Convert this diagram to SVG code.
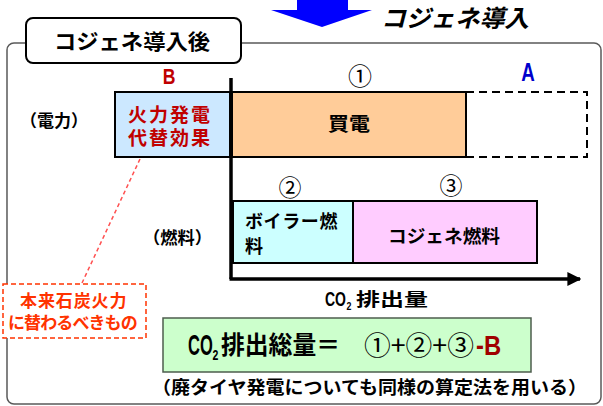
<svg xmlns="http://www.w3.org/2000/svg" width="603" height="406" viewBox="0 0 603 406">
<style>
.jp{font-family:"Noto Sans CJK JP","Noto Sans",sans-serif;font-weight:bold;fill:#000}
.jp2{font-family:"Liberation Sans","Noto Sans CJK JP",sans-serif;font-weight:bold}
.lat{font-family:"Liberation Sans",sans-serif;font-weight:bold}
.circ{font-family:"Noto Sans CJK JP",sans-serif;font-weight:normal;fill:#000}
.box{stroke:#000;stroke-width:2}
.axis{stroke:#000;stroke-width:3.5;fill:none}
</style>
<defs>
<marker id="ah" viewBox="0 0 10 10" refX="9" refY="5" markerWidth="4" markerHeight="4" orient="auto" markerUnits="strokeWidth">
<path d="M0,0 L10,5 L0,10 Z" fill="#000"/>
</marker>
</defs>
<rect width="603" height="406" fill="#fff"/>

<g id="top-arrow">
<polygon points="297,0 348,0 348,10 372,10 322,27 271,10 297,10" fill="#0000FF"/>
<text x="381" y="27" class="jp" font-size="24" font-style="italic" textLength="148" lengthAdjust="spacingAndGlyphs">コジェネ導入</text>
</g>

<g id="frame">
<rect x="7" y="43" width="594" height="361" rx="7" fill="none" stroke="#595959" stroke-width="1.5"/>
</g>

<g id="title">
<rect x="26" y="18" width="215" height="45" rx="7" fill="#fff" stroke="#000" stroke-width="2"/>
<text x="54" y="49" class="jp" font-size="21" textLength="156" lengthAdjust="spacingAndGlyphs">コジェネ導入後</text>
</g>

<g id="connectors">
<line x1="231" y1="78" x2="231" y2="279" class="axis"/>
<line x1="229.5" y1="279" x2="580" y2="279" class="axis" marker-end="url(#ah)" stroke-width="3"/>
<line x1="140" y1="159" x2="82" y2="283" stroke="#FF5050" stroke-width="1.5" stroke-dasharray="4 3"/>
</g>

<g id="label-power">
<text x="20" y="127" class="jp" font-size="17" textLength="68" lengthAdjust="spacingAndGlyphs">（電力）</text>
</g>
<g id="label-fuel">
<text x="143" y="244" class="jp" font-size="17" textLength="69" lengthAdjust="spacingAndGlyphs">（燃料）</text>
</g>

<g id="node-B">
<text transform="translate(169,84) scale(0.8,1)" class="lat" font-size="22" fill="#C00000" text-anchor="middle">B</text>
<rect x="115" y="92" width="115" height="65" fill="#CCE8FF" class="box"/>
<text x="128" y="122" class="jp2" font-size="19" fill="#C00000" letter-spacing="2">火力発電</text>
<text x="128" y="145" class="jp2" font-size="19" fill="#C00000" letter-spacing="2">代替効果</text>
</g>

<g id="node-1">
<text x="360" y="85" class="circ" font-size="24" text-anchor="middle">①</text>
<rect x="232" y="92" width="234" height="65" fill="#FFCC99" class="box"/>
<text x="328" y="131" class="jp" font-size="19" textLength="42" lengthAdjust="spacingAndGlyphs">買電</text>
</g>

<g id="node-A">
<text transform="translate(528,81) scale(0.75,1)" class="lat" font-size="25" fill="#0000CC" text-anchor="middle">A</text>
<rect x="466" y="92" width="121" height="65" fill="none" stroke="#000" stroke-width="2" stroke-dasharray="8 5"/>
</g>

<g id="node-2">
<text x="290" y="196" class="circ" font-size="23" text-anchor="middle">②</text>
<rect x="233" y="201" width="120" height="62" fill="#CCFFFF" class="box"/>
<text x="245" y="228" class="jp2" font-size="18" letter-spacing="0.6">ボイラー燃</text>
<text x="245" y="253" class="jp2" font-size="18">料</text>
</g>

<g id="node-3">
<text x="451" y="194" class="circ" font-size="23" text-anchor="middle">③</text>
<rect x="353" y="201" width="184" height="62" fill="#FFCCFF" class="box"/>
<text x="388" y="243" class="jp" font-size="18" textLength="112" lengthAdjust="spacingAndGlyphs">コジェネ燃料</text>
</g>

<g id="axis-label">
<text transform="translate(325,306) scale(0.7,1)" class="lat" font-size="20">CO</text>
<text transform="translate(346.5,310) scale(0.8,1)" class="lat" font-size="11">2</text>
<text x="356" y="306" class="jp" font-size="18" textLength="72" lengthAdjust="spacingAndGlyphs">排出量</text>
</g>

<g id="note-coal">
<rect x="3" y="284" width="143" height="54" fill="#fff" stroke="#FF3300" stroke-width="1.5" stroke-dasharray="5 3"/>
<text x="20" y="307" class="jp2" font-size="17" fill="#FF3300" letter-spacing="0.9">本来石炭火力</text>
<text x="8" y="329" class="jp2" font-size="17" fill="#FF3300" letter-spacing="-0.9">に替わるべきもの</text>
</g>

<g id="formula">
<rect x="163" y="318" width="368" height="54" fill="#CCFFCC" stroke="#4D5D4D" stroke-width="1.5"/>
<text transform="translate(188,355) scale(0.55,1)" class="lat" font-size="30">CO</text>
<text transform="translate(212.5,360) scale(0.7,1)" class="lat" font-size="15">2</text>
<text x="221" y="354" class="jp" font-size="25" textLength="119" lengthAdjust="spacingAndGlyphs">排出総量＝</text>
<text x="364" y="355" class="circ" font-size="26" textLength="110" lengthAdjust="spacingAndGlyphs">①+②+③</text>
<text transform="translate(476,355) scale(0.85,1)" class="lat" font-size="28" fill="#A00000">-B</text>
</g>

<g id="footnote">
<text x="152" y="394" class="jp" font-size="18" textLength="435" lengthAdjust="spacingAndGlyphs">（廃タイヤ発電についても同様の算定法を用いる）</text>
</g>
</svg>
